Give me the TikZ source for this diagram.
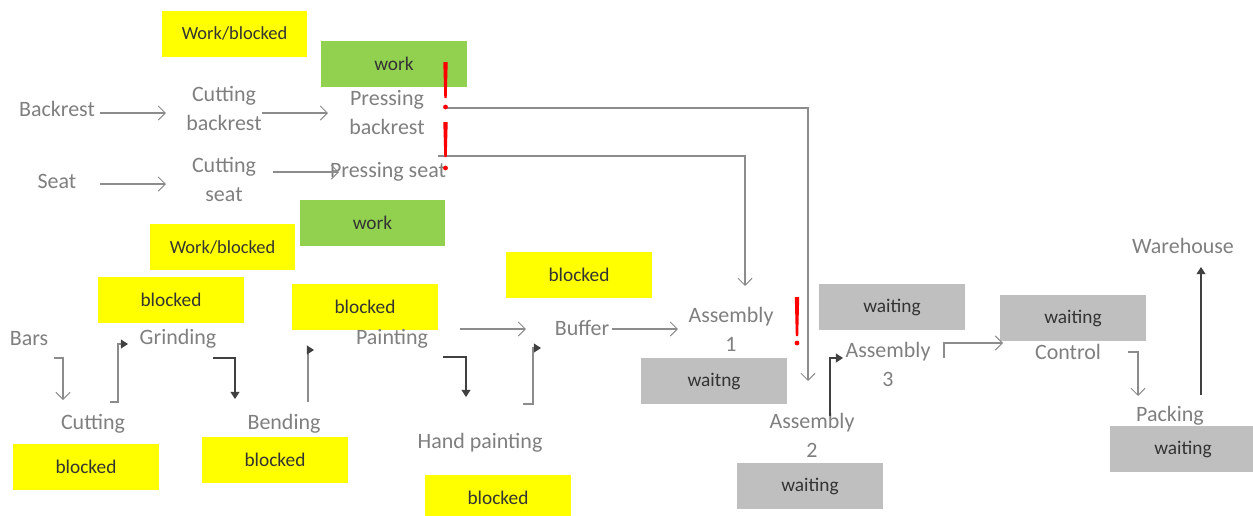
\documentclass[tikz,border=0pt]{standalone}
\usepackage{fontspec}
\setmainfont{Carlito}
\usetikzlibrary{arrows.meta}
\definecolor{txtgray}{HTML}{7F7F7F}
\definecolor{lngray}{HTML}{8C8C8C}
\definecolor{dkln}{HTML}{404040}
\definecolor{ylw}{HTML}{FFFF00}
\definecolor{grn}{HTML}{92D050}
\definecolor{gry}{HTML}{BFBFBF}
\tikzset{
  lbl/.style={text=txtgray, inner sep=0pt, align=center, font=\fontsize{12.5}{16.5}\selectfont},
  statebox/.style={minimum width=2.92cm, minimum height=0.92cm, inner sep=0pt, text=black!80, font=\fontsize{11}{13}\selectfont},
  yb/.style={statebox, fill=ylw},
  gb/.style={statebox, fill=grn},
  sb/.style={statebox, fill=gry},
  openarr/.style={draw=lngray, line width=0.6pt, -{Straight Barb[length=4pt,width=8pt]}},
  fillarr/.style={draw=dkln, line width=0.6pt, -{Triangle[length=4pt,width=5pt]}},
  fillarrg/.style={draw=lngray, line width=0.6pt, -{Triangle[length=4pt,width=5pt,color=dkln]}},
}
\newcommand{\excl}[4]{% x, ytop, ybottom, ydot
  \fill[red] (#1-2.2,#2) -- (#1+2.2,#2) -- (#1+1.2,#3) -- (#1-1.2,#3) -- cycle;
  \fill[red] (#1,#4) circle (2.4);
}
\begin{document}
\begin{tikzpicture}[x=0.02cm,y=-0.02cm]
\useasboundingbox (0,0) rectangle (1253,515);
\clip (0,0) rectangle (1253,515);
% state boxes
\node[yb, font=\fontsize{10.5}{12}\selectfont] (wb1) at (234.5,33.5) {Work/blocked};
\node[gb] (work1) at (394,64) {work};
\node[gb] (work2) at (372.5,223) {work};
\node[yb, font=\fontsize{10.5}{12}\selectfont] (wb2) at (222.5,247) {Work/blocked};
\node[yb] (bgrind) at (171,300) {blocked};
\node[yb] (bpaint) at (365,307) {blocked};
\node[yb] (bbuf) at (579,275) {blocked};
\node[yb] (bcut) at (86,467) {blocked};
\node[yb] (bbend) at (275,460) {blocked};
\node[yb] (bhand) at (498,498) {blocked};
\node[sb] (w1) at (714,381) {waitng};
\node[sb] (w2) at (810,486) {waiting};
\node[sb] (w3) at (892,307) {waiting};
\node[sb] (wc) at (1073,318) {waiting};
\node[sb] (wp) at (1183,449) {waiting};
% labels
\node[lbl] (backrest) at (57,109) {Backrest};
\node[lbl] (cutback) at (224,108) {Cutting\\backrest};
\node[lbl] (pressback) at (387,113) {Pressing\\backrest};
\node[lbl] (seat) at (57,181) {Seat};
\node[lbl] (cutseat) at (224,179) {Cutting\\seat};
\node[lbl] (pressseat) at (388,172) {Pressing seat};
\node[lbl] (bars) at (29,339) {Bars};
\node[lbl] (grind) at (178,339) {Grinding};
\node[lbl] (paint) at (392,339) {Painting};
\node[lbl] (buffer) at (582,328) {Buffer};
\node[lbl] (asm1) at (731,329) {Assembly\\1};
\node[lbl] (cut) at (93,424) {Cutting};
\node[lbl] (bend) at (284,424) {Bending};
\node[lbl] (hand) at (480,443) {Hand painting};
\node[lbl] (asm2) at (812,435) {Assembly\\2};
\node[lbl] (asm3) at (888,364) {Assembly\\3};
\node[lbl] (control) at (1068,352) {Control};
\node[lbl] (pack) at (1170,416) {Packing};
\node[lbl] (ware) at (1183,246) {Warehouse};
% connector end points
\coordinate (c1a) at (100,113); \coordinate (c1b) at (166,113);
\coordinate (c2a) at (262,113); \coordinate (c2b) at (328,113);
\coordinate (c3a) at (100,184); \coordinate (c3b) at (166,184);
\coordinate (c4a) at (273,172); \coordinate (c4b) at (339,172);
\coordinate (c5a) at (447,108); \coordinate (c5b) at (808,381);
\coordinate (c6a) at (438,156); \coordinate (c6b) at (745,286);
\coordinate (c7a) at (54,358); \coordinate (c7b) at (63,400);
\coordinate (c8a) at (110,402); \coordinate (c8b) at (128,344);
\coordinate (c9a) at (213,358); \coordinate (c9b) at (235,399);
\coordinate (c10a) at (308,402); \coordinate (c10b) at (314,350);
\coordinate (c11a) at (460,329); \coordinate (c11b) at (526,329);
\coordinate (c12a) at (443,357); \coordinate (c12b) at (466,397);
\coordinate (c13a) at (523,404); \coordinate (c13b) at (541,348);
\coordinate (c14a) at (612,329); \coordinate (c14b) at (678,329);
\coordinate (c15a) at (830,416); \coordinate (c15b) at (843,358);
\coordinate (c16a) at (944,358); \coordinate (c16b) at (1003,343);
\coordinate (c17a) at (1128,352); \coordinate (c17b) at (1138,396);
\coordinate (c18a) at (1201,395); \coordinate (c18b) at (1201,267);
% connectors
\draw[openarr] (c1a) -- (c1b);
\draw[openarr] (c2a) -- (c2b);
\draw[openarr] (c3a) -- (c3b);
\draw[openarr] (c4a) -- (c4b);
\draw[openarr] (c5a) -| (c5b);
\draw[openarr] (c6a) -| (c6b);
\draw[openarr] (c7a) -| (c7b);
\draw[fillarrg] (c8a) -- (c8a -| 118,0) |- (c8b);
\draw[fillarr] (c9a) -| (c9b);
\draw[fillarrg] (c10a) |- (c10b);
\draw[openarr] (c11a) -- (c11b);
\draw[fillarr] (c12a) -| (c12b);
\draw[fillarrg] (c13a) -- (c13a -| 533,0) |- (c13b);
\draw[openarr] (c14a) -- (c14b);
\draw[fillarr] (c15a) |- (c15b);
\draw[openarr] (c16a) |- (c16b);
\draw[openarr] (c17a) -| (c17b);
\draw[fillarr] (c18a) -- (c18b);
% exclamation marks
\excl{445.5}{62}{98}{107}
\excl{445.5}{122}{157}{168}
\excl{797}{297}{336}{343}
\end{tikzpicture}
\end{document}
